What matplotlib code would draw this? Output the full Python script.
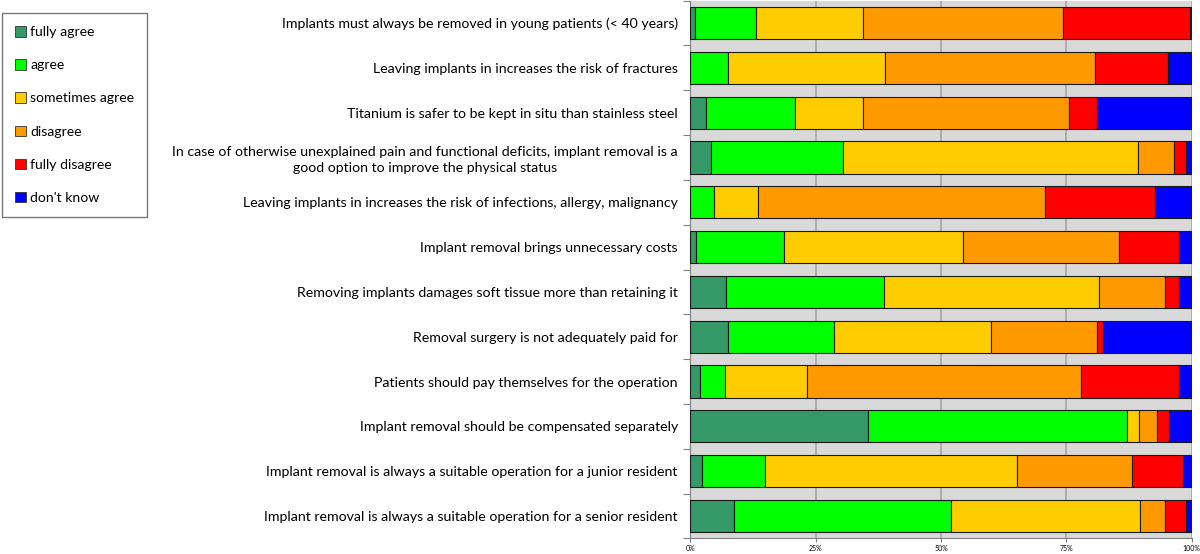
import matplotlib
matplotlib.use("Agg")
import matplotlib.pyplot as plt
import numpy as np
from matplotlib.patches import Patch

categories = [
    "Implants must always be removed in young patients (< 40 years)",
    "Leaving implants in increases the risk of fractures",
    "Titanium is safer to be kept in situ than stainless steel",
    "In case of otherwise unexplained pain and functional deficits, implant removal is a\ngood option to improve the physical status",
    "Leaving implants in increases the risk of infections, allergy, malignancy",
    "Implant removal brings unnecessary costs",
    "Removing implants damages soft tissue more than retaining it",
    "Removal surgery is not adequately paid for",
    "Patients should pay themselves for the operation",
    "Implant removal should be compensated separately",
    "Implant removal is always a suitable operation for a junior resident",
    "Implant removal is always a suitable operation for a senior resident",
]

series_names = ["fully agree", "agree", "sometimes agree", "disagree", "fully disagree", "don't know"]

fully_agree     = [0.9, 0.0, 3.2, 4.1, 0.0, 1.1, 7.1, 7.6, 1.9, 35.5, 2.4, 8.8]
agree           = [12.2, 7.6, 17.6, 26.3, 4.8, 17.7, 31.6, 21.1, 5.1, 51.7, 12.4, 43.1]
sometimes_agree = [21.3, 31.1, 13.6, 58.8, 8.8, 35.7, 42.8, 31.3, 16.2, 2.4, 50.4, 37.8]
disagree        = [40.0, 42.0, 41.2, 7.2, 57.2, 31.1, 13.2, 21.1, 54.7, 3.6, 22.8, 5.0]
fully_disagree  = [25.3, 14.4, 5.6, 2.5, 21.9, 12.0, 2.8, 1.2, 19.6, 2.4, 10.3, 4.2]
dont_know       = [0.3, 4.8, 18.8, 1.1, 7.3, 2.5, 2.5, 17.6, 2.5, 4.5, 1.7, 1.1]

colors = ["#339966", "#00ff00", "#ffcc00", "#ff9900", "#ff0000", "#0000ff"]
x_ticks = [0, 25, 50, 75, 100]
x_tick_labels = ["0%", "25%", "50%", "75%", "100%"]

plt.rcParams['font.family'] = ['Lato', 'DejaVu Sans']

fig = plt.figure(figsize=(12, 5.54), dpi=100)
ax = fig.add_axes([690.3 / 1200, 1 - 538.4 / 554, (1191.7 - 690.3) / 1200, (538.4 - 0.6) / 554])
ax.set_facecolor("#d9d9d9")

data = np.array([fully_agree, agree, sometimes_agree, disagree, fully_disagree, dont_know])
data = data / data.sum(axis=0) * 100
y = np.arange(len(categories))
left = np.zeros(len(categories))
for vals, name, c in zip(data, series_names, colors):
    ax.barh(y, vals, left=left, height=0.72, color=c, edgecolor="#1a1a1a", linewidth=0.8, label=name, zorder=3)
    left += vals

ax.set_xlim(0, 100)
ax.set_ylim(len(categories) - 0.5, -0.5)
ax.set_xticks(x_ticks)
ax.set_xticklabels(x_tick_labels, fontsize=5)
ax.xaxis.grid(True, color="#a6a6a6", linewidth=1.2, zorder=0)
ax.set_axisbelow(True)

ax.set_yticks(y)
ax.set_yticklabels(categories, fontsize=10.2)
for lbl in ax.get_yticklabels():
    lbl.set_multialignment('center')
    lbl.set_linespacing(1.35)
ax.tick_params(axis='y', which='major', length=0, pad=9)
ax.set_yticks(np.arange(-0.5, len(categories) + 0.5, 1), minor=True)
ax.tick_params(axis='y', which='minor', length=5, color="#808080", width=0.8)
ax.tick_params(axis='x', length=3, color="#808080", width=0.8, pad=2)

for s in ["top", "right"]:
    ax.spines[s].set_visible(False)
ax.spines["left"].set_color("#808080")
ax.spines["left"].set_linewidth(0.8)
ax.spines["bottom"].set_color("#808080")
ax.spines["bottom"].set_linewidth(0.8)

handles = [Patch(facecolor=c, edgecolor="#333333", linewidth=0.6, label=n) for n, c in zip(series_names, colors)]
leg = fig.legend(handles=handles, loc="upper left", bbox_to_anchor=(2 / 1200, 1 - 13 / 554),
                 frameon=True, fancybox=False, edgecolor="#555555", fontsize=10.1,
                 handlelength=0.75, handleheight=0.75, handletextpad=0.3, labelspacing=1.5,
                 borderpad=0.95, borderaxespad=0)
leg.get_frame().set_linewidth(1.0)

fig.savefig("out.png", dpi=100)
